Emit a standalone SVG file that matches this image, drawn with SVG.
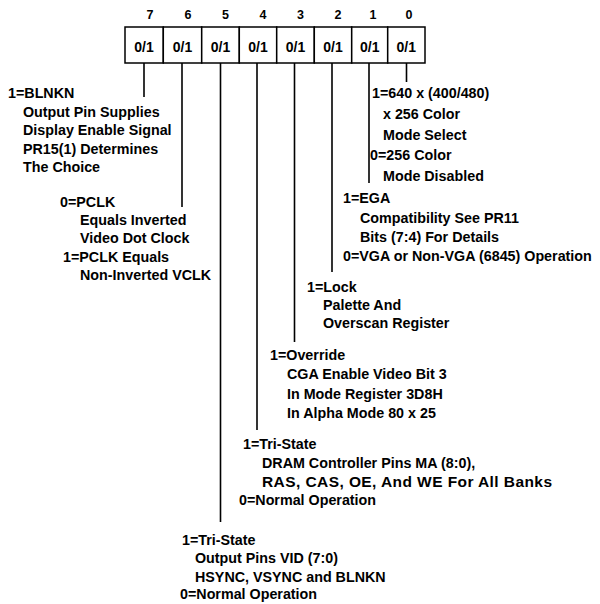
<svg xmlns="http://www.w3.org/2000/svg" width="600" height="604" viewBox="0 0 600 604">
<style>
text{font-family:"Liberation Sans",Arial,Helvetica,sans-serif;font-weight:bold;fill:#000;font-size:14.3px}
.num{font-size:12.5px;text-anchor:middle}
.cv{font-size:14px;text-anchor:middle}
.big{font-size:15.5px}
.cell{fill:#fff;stroke:#000;stroke-width:1.5}
.conn line{stroke:#000;stroke-width:1.6}
</style>
<rect width="600" height="604" fill="#fff"/>
<g id="register">
<g id="bit7"><text class="num" x="150" y="19">7</text><rect class="cell" x="125" y="27" width="38.3" height="36"/><text class="cv" x="144" y="52">0/1</text></g>
<g id="bit6"><text class="num" x="188" y="19">6</text><rect class="cell" x="163.3" y="27" width="38.4" height="36"/><text class="cv" x="182.5" y="52">0/1</text></g>
<g id="bit5"><text class="num" x="225.5" y="19">5</text><rect class="cell" x="201.7" y="27" width="37.6" height="36"/><text class="cv" x="220.5" y="52">0/1</text></g>
<g id="bit4"><text class="num" x="263" y="19">4</text><rect class="cell" x="239.3" y="27" width="37.4" height="36"/><text class="cv" x="258" y="52">0/1</text></g>
<g id="bit3"><text class="num" x="300.5" y="19">3</text><rect class="cell" x="276.7" y="27" width="37.6" height="36"/><text class="cv" x="295.5" y="52">0/1</text></g>
<g id="bit2"><text class="num" x="338" y="19">2</text><rect class="cell" x="314.3" y="27" width="37.4" height="36"/><text class="cv" x="333" y="52">0/1</text></g>
<g id="bit1"><text class="num" x="373" y="19">1</text><rect class="cell" x="351.7" y="27" width="36" height="36"/><text class="cv" x="369.7" y="52">0/1</text></g>
<g id="bit0"><text class="num" x="409" y="19">0</text><rect class="cell" x="387.7" y="27" width="37.3" height="36"/><text class="cv" x="406.3" y="52">0/1</text></g>
</g>
<g id="connectors" class="conn">
<line x1="144" y1="63" x2="144" y2="97"/>
<line x1="182" y1="63" x2="182" y2="207"/>
<line x1="220.5" y1="63" x2="220.5" y2="522"/>
<line x1="257" y1="63" x2="257" y2="430"/>
<line x1="294.5" y1="63" x2="294.5" y2="342"/>
<line x1="332" y1="63" x2="332" y2="272"/>
<line x1="369" y1="63" x2="369" y2="183"/>
<line x1="406.5" y1="63" x2="406.5" y2="82"/>
</g>
<g id="desc7">
<text x="8" y="98">1=BLNKN</text>
<text x="23" y="117">Output Pin Supplies</text>
<text x="23" y="135">Display Enable Signal</text>
<text x="23" y="154">PR15(1) Determines</text>
<text x="23" y="172">The Choice</text>
</g>
<g id="desc6">
<text x="60" y="207">0=PCLK</text>
<text x="80" y="225">Equals Inverted</text>
<text x="80" y="243">Video Dot Clock</text>
<text x="63" y="262">1=PCLK Equals</text>
<text x="80" y="280">Non-Inverted VCLK</text>
</g>
<g id="desc0">
<text x="372" y="98">1=640 x (400/480)</text>
<text x="383" y="119">x 256 Color</text>
<text x="383" y="140">Mode Select</text>
<text x="370" y="160">0=256 Color</text>
<text x="383" y="181">Mode Disabled</text>
</g>
<g id="desc1">
<text x="343" y="203">1=EGA</text>
<text x="360" y="223">Compatibility See PR11</text>
<text x="360" y="242">Bits (7:4) For Details</text>
<text x="343" y="261">0=VGA or Non-VGA (6845) Operation</text>
</g>
<g id="desc2">
<text x="307" y="292">1=Lock</text>
<text x="323" y="310">Palette And</text>
<text x="323" y="328">Overscan Register</text>
</g>
<g id="desc3">
<text x="270" y="360">1=Override</text>
<text x="287" y="379">CGA Enable Video Bit 3</text>
<text x="287" y="399">In Mode Register 3D8H</text>
<text x="287" y="418">In Alpha Mode 80 x 25</text>
</g>
<g id="desc4">
<text x="243" y="449">1=Tri-State</text>
<text x="262" y="468">DRAM Controller Pins MA (8:0),</text>
<text class="big" x="262" y="487" textLength="290" lengthAdjust="spacing">RAS, CAS, OE, And WE For All Banks</text>
<text x="239" y="505">0=Normal Operation</text>
</g>
<g id="desc5">
<text x="182" y="545">1=Tri-State</text>
<text x="195" y="563">Output Pins VID (7:0)</text>
<text x="195" y="582">HSYNC, VSYNC and BLNKN</text>
<text x="180" y="599">0=Normal Operation</text>
</g>
</svg>
